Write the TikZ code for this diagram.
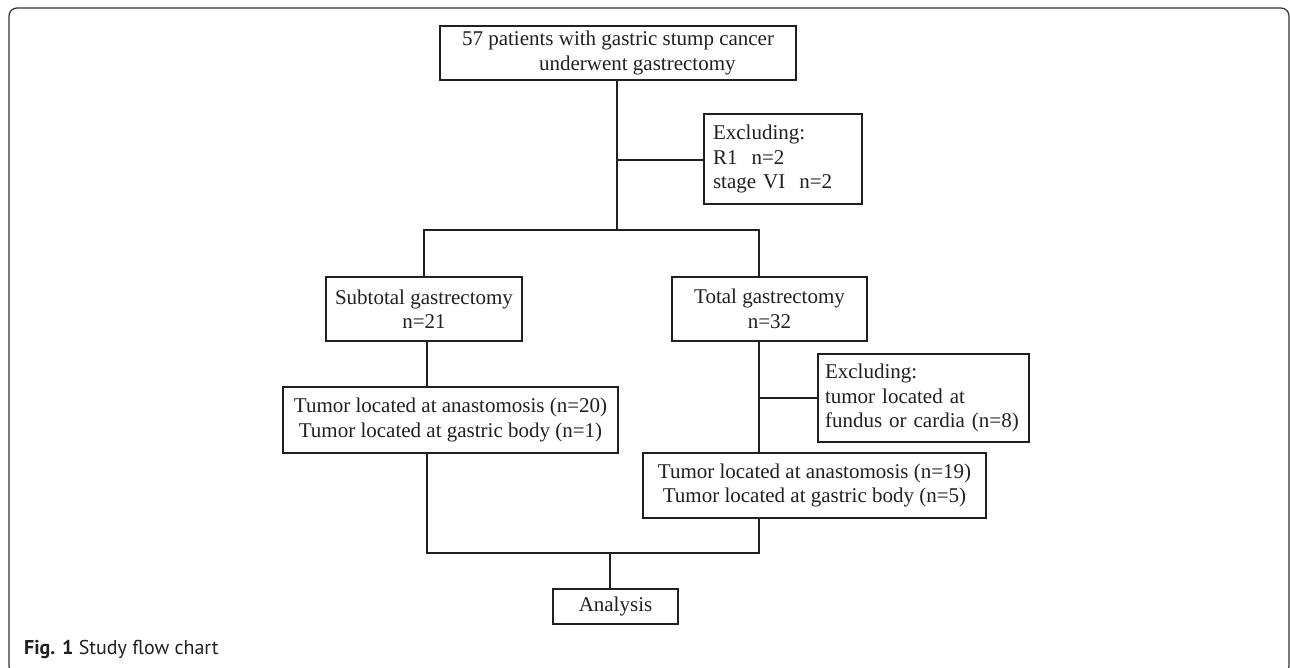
\documentclass[tikz,border=0pt]{standalone}
\usepackage{fontspec}
\setmainfont{Liberation Serif}
\setsansfont{PT Sans}
\definecolor{ink}{RGB}{35,31,32}
\definecolor{framec}{RGB}{50,50,50}
\begin{document}
\begin{tikzpicture}[x=1pt,y=-1pt,
  box/.style={draw=ink, line width=1.5pt, inner sep=0pt, text=ink,
    font=\fontsize{21}{24.5}\selectfont},
  link/.style={draw=ink, line width=1.5pt},
]
\useasboundingbox (0,0) rectangle (1290,668);
\fill[white] (0,0) rectangle (1290,668);
\draw[draw=framec, line width=1.2pt, rounded corners=8pt] (9,8) rectangle (1289,674);

\node[box, minimum width=356pt, minimum height=54pt, align=left] (top) at (618,53)
  {57 patients with gastric stump cancer\\\hspace*{3.67em}underwent gastrectomy};
\node[box, minimum height=90pt, text width=140pt, inner xsep=9pt, align=left] (ex1) at (783,159)
  {Excluding:\\R1~~n=2\\stage VI~~n=2};
\node[box, minimum width=196pt, minimum height=64pt, align=center] (sub) at (424,309)
  {Subtotal gastrectomy\\n=21};
\node[box, minimum width=195pt, minimum height=64pt, align=center] (tot) at (769.5,309)
  {Total gastrectomy\\n=32};
\node[box, minimum width=335pt, minimum height=66pt, align=center] (tumL) at (450.5,420)
  {Tumor located at anastomosis (n=20)\\Tumor located at gastric body (n=1)};
\node[box, minimum height=88pt, text width=197pt, inner xsep=7pt, align=left] (ex2) at (923.5,398)
  {Excluding:\\tumor located at\\fundus or cardia (n=8)};
\node[box, minimum width=343pt, minimum height=65pt, align=center] (tumR) at (814.5,485.5)
  {Tumor located at anastomosis (n=19)\\Tumor located at gastric body (n=5)};
\node[box, minimum width=125pt, minimum height=35pt, align=center] (ana) at (615.5,606.5)
  {Analysis};

\coordinate (jA) at (617,230);
\coordinate (jE) at (617,160);
\coordinate (bL) at (424,230);
\coordinate (bR) at (759,230);
\coordinate (cL) at (427,553);
\coordinate (m) at (610,553);

\draw[link] (top.south -| jA) -- (jA);
\draw[link] (jE) -- (jE -| ex1.west);
\draw[link] (sub.north -| bL) -- (bL) -- (bR) -- (tot.north -| bR);
\draw[link] (sub.south -| cL) -- (tumL.north -| cL);
\draw[link] (tot.south -| bR) -- (tumR.north -| bR);
\draw[link] (ex2.west -| bR) -- (ex2.west);
\draw[link] (tumL.south -| cL) -- (cL) -- (m -| bR) -- (tumR.south -| bR);
\draw[link] (m) -- (ana.north -| m);

\node[anchor=base west, inner sep=0pt, text=ink, font=\fontsize{20}{22}\sffamily] (cap) at (24,654)
  {\textbf{Fig. 1} Study flow chart};
\end{tikzpicture}
\end{document}
